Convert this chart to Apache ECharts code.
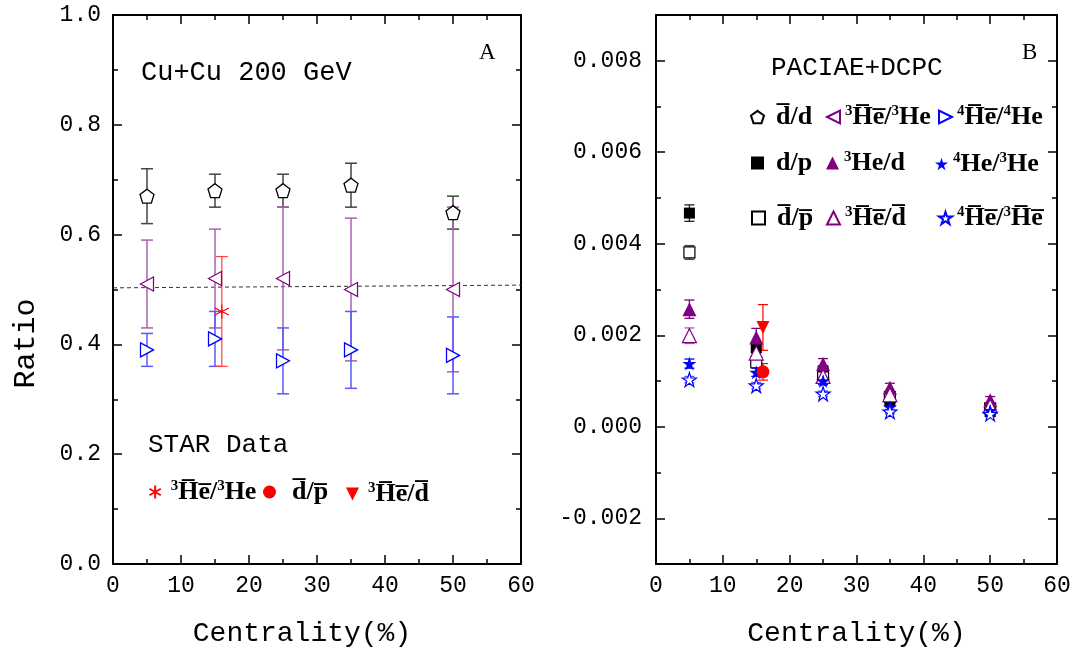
<!DOCTYPE html>
<html>
<head>
<meta charset="utf-8">
<script src="https://cdn.jsdelivr.net/npm/echarts@6/dist/echarts.min.js"></script>
<style>html,body{margin:0;padding:0;background:#fff}#c{width:1083px;height:653px}</style>
</head>
<body>
<div id="c"></div>
<script>
// ---------- data ----------
const centrality = [5, 15, 25, 35, 50];
// Panel A (PACIAE+DCPC)
const dbarD      = [0.67, 0.68, 0.68, 0.69, 0.64];
const dbarDErr   = [0.05, 0.03, 0.03, 0.04, 0.03];
const he3barHe3  = [0.51, 0.52, 0.52, 0.50, 0.50];
const he3barHe3Err = [0.08, 0.09, 0.13, 0.13, 0.15];
const he4barHe4  = [0.39, 0.41, 0.37, 0.39, 0.38];
const he4barHe4Err = [0.03, 0.05, 0.06, 0.07, 0.07];
const fitLine = [[0, 0.503], [60, 0.508]];
// STAR data
const starCent = [16];
const starHe3barHe3 = [0.46];
const starHe3barHe3Err = [0.10];
const starDbarPbar = [0.0012];
const starDbarPbarErr = [0.00018];
const starHe3barDbar = [0.00217];
const starHe3barDbarErr = [0.0005];
// Panel B (PACIAE+DCPC)
const dP        = [0.00467, 0.00173, 0.00122, 0.00055, 0.00033];
const dPErr     = [0.00018, 0.00012, 0.00010, 0.00008, 0.00006];
const dbarPbar  = [0.00381, 0.00141, 0.00108, 0.00065, 0.00040];
const dbarPbarErr = [0.00015, 0.00010, 0.00008, 0.00007, 0.00006];
const he3D      = [0.00257, 0.00195, 0.00137, 0.00085, 0.00058];
const he3DErr   = [0.00020, 0.00020, 0.00012, 0.00010, 0.00008];
const he3barDbar = [0.00199, 0.00161, 0.00110, 0.00070, 0.00045];
const he3barDbarErr = [0.00017, 0.00015, 0.00010, 0.00008, 0.00007];
const he4He3    = [0.00138, 0.00119, 0.00100, 0.00043, 0.00035];
const he4He3Err = [0.00010, 0.00009, 0.00008, 0.00006, 0.00005];
const he4barHe3bar = [0.00103, 0.00090, 0.00072, 0.00033, 0.00028];
const he4barHe3barErr = [0.00007, 0.00007, 0.00006, 0.00005, 0.00004];
// tick values
const xMajorTicks = [0, 10, 20, 30, 40, 50, 60];
const yAMajorTicks = [0, 0.2, 0.4, 0.6, 0.8, 1.0];
const yBMajorTicks = [-0.002, 0, 0.002, 0.004, 0.006, 0.008];

// ---------- style ----------
const MONO = 'Liberation Mono';
const SERIF = 'Liberation Serif';
const OL = '\u0305';
const ov = s => s.split('').map(c => c + OL).join('');
const PURPLE = '#800080', BLUE = '#0000ff', RED = '#ff0000';
const symPent = 'path://M0,-1L0.951,-0.309L0.588,0.809L-0.588,0.809L-0.951,-0.309Z';
const symLeft = 'path://M-1,0L1,-1L1,1Z';
const symRight = 'path://M1,0L-1,-1L-1,1Z';
const symDown = 'path://M-1,-1L1,-1L0,1Z';
const symStar = 'path://M0,-1L0.2245,-0.309L0.951,-0.309L0.363,0.118L0.588,0.809L0,0.382L-0.588,0.809L-0.363,0.118L-0.951,-0.309L-0.2245,-0.309Z';
const symAst = 'path://M0,-1L0,1M-0.87,-0.5L0.87,0.5M-0.87,0.5L0.87,-0.5';

function errSeries(x, y, e, color, xi, yi, cap, w) {
  return {
    type: 'custom', xAxisIndex: xi, yAxisIndex: yi, silent: true, z: 2,
    dimensions: ['x', 'y', 'e'], encode: { x: 0, y: 1 },
    data: x.map((c, i) => [c, y[i], e[i]]),
    renderItem: function (params, api) {
      const cx = api.value(0), cy = api.value(1), ee = api.value(2);
      const p1 = api.coord([cx, cy + ee]), p2 = api.coord([cx, cy - ee]);
      const st = { stroke: color, lineWidth: w };
      return { type: 'group', children: [
        { type: 'line', shape: { x1: p1[0], y1: p1[1], x2: p2[0], y2: p2[1] }, style: st },
        { type: 'line', shape: { x1: p1[0] - cap, y1: p1[1], x2: p1[0] + cap, y2: p1[1] }, style: st },
        { type: 'line', shape: { x1: p2[0] - cap, y1: p2[1], x2: p2[0] + cap, y2: p2[1] }, style: st }
      ]};
    }
  };
}
function sc(name, x, y, xi, yi, symbol, size, fill, border, bw) {
  return {
    type: 'scatter', name: name, xAxisIndex: xi, yAxisIndex: yi, z: 3,
    data: x.map((c, i) => [c, y[i]]), symbol: symbol, symbolSize: size,
    itemStyle: { color: fill, borderColor: border, borderWidth: bw, opacity: 1 },
    emphasis: { disabled: true }
  };
}

const labels = {
  m_dbar_d: '{b|' + ov('d') + '/d}',
  m_he3bar_he3: '{sup|3}{b|' + ov('He') + '/}{sup|3}{b|He}',
  m_he4bar_he4: '{sup|4}{b|' + ov('He') + '/}{sup|4}{b|He}',
  m_dp: '{b|d/p}',
  m_he3d: '{sup|3}{b|He/d}',
  m_he4he3: '{sup|4}{b|He/}{sup|3}{b|He}',
  m_dbarpbar: '{b|' + ov('d') + '/' + ov('p') + '}',
  m_he3bar_dbar: '{sup|3}{b|' + ov('He') + '/' + ov('d') + '}',
  m_he4bar_he3bar: '{sup|4}{b|' + ov('He') + '/}{sup|3}{b|' + ov('He') + '}',
  s_he3bar_he3: '{sup|3}{b|' + ov('He') + '/}{sup|3}{b|He}',
  s_dbar_pbar: '{b|' + ov('d') + '/' + ov('p') + '}',
  s_he3bar_dbar: '{sup|3}{b|' + ov('He') + '/' + ov('d') + '}'
};
// [series, icon left, icon centre y, extra gap]
const legendPlaces = [
  ['m_dbar_d', 750, 117, 7], ['m_he3bar_he3', 826, 117, 0], ['m_he4bar_he4', 938, 117, 0],
  ['m_dp', 751, 163, 7], ['m_he3d', 826, 163, 0], ['m_he4he3', 935, 164, 0],
  ['m_dbarpbar', 751, 218, 7], ['m_he3bar_dbar', 826, 218, 0], ['m_he4bar_he3bar', 938, 218, 0],
  ['s_he3bar_he3', 147, 492, 4], ['s_dbar_pbar', 263, 492, 11], ['s_he3bar_dbar', 346, 494, 4]
];
const baseRich = {
  b: { fontFamily: SERIF, fontWeight: 'bold', fontSize: 26, color: '#000', verticalAlign: 'bottom' },
  sup: { fontFamily: SERIF, fontWeight: 'bold', fontSize: 15, color: '#000', verticalAlign: 'top' }
};
const legends = legendPlaces.map(p => ({
  data: [p[0]], left: p[1], top: p[2] - 13, padding: 0, itemWidth: 13, itemHeight: 13,
  selectedMode: false,
  formatter: n => (p[3] > 0 ? '{sp| }' : '') + labels[n],
  textStyle: { rich: Object.assign({ sp: { fontSize: 6, width: p[3] } }, baseRich) }
}));

const tickLine = { color: '#000', width: 1.5 };
const labelStyle = { fontFamily: MONO, fontSize: 23, color: '#000' };
// minor-step axis with short ticks (and labels at majors) + overlay axis carrying the long major ticks
function axisPair(kind, grid, pos, min, max, step, majors, labelOpt, nameOpt) {
  const main = Object.assign({
    type: 'value', gridIndex: grid, position: pos, offset: 0, min: min, max: max, interval: step,
    axisLine: { show: true, onZero: false, lineStyle: { color: '#000', width: 2 } },
    axisTick: { show: true, inside: true, length: 5, lineStyle: tickLine },
    minorTick: { show: false }, splitLine: { show: false },
    axisLabel: labelOpt || { show: false }
  }, nameOpt || {});
  const major = {
    type: 'value', gridIndex: grid, position: pos, offset: 0, min: min, max: max, interval: step,
    axisLine: { show: false, onZero: false },
    axisTick: { show: true, inside: true, length: 9, customValues: majors, lineStyle: tickLine },
    minorTick: { show: false }, splitLine: { show: false }, axisLabel: { show: false }
  };
  return [main, major];
}
const isMajor = (v, majors) => majors.some(m => Math.abs(m - v) < 1e-9);
const xLabel = { show: true, margin: 10, formatter: v => (isMajor(v, xMajorTicks) ? String(v) : ''), ...labelStyle };
const xName = (pad) => ({
  name: 'Centrality(%)', nameLocation: 'middle', nameGap: 56,
  nameTextStyle: { fontFamily: MONO, fontSize: 28, color: '#000', padding: pad }
});

const xAxes = [].concat(
  axisPair('x', 0, 'bottom', 0, 60, 5, xMajorTicks, xLabel, xName([0, 30, 0, 0])),
  axisPair('x', 0, 'top', 0, 60, 5, xMajorTicks),
  axisPair('x', 1, 'bottom', 0, 60, 5, xMajorTicks, xLabel, xName([0, 0, 0, 0])),
  axisPair('x', 1, 'top', 0, 60, 5, xMajorTicks)
);
const yAxes = [].concat(
  axisPair('y', 0, 'left', 0, 1, 0.1, yAMajorTicks,
    { show: true, margin: 12, formatter: v => (isMajor(v, yAMajorTicks) ? v.toFixed(1) : ''), ...labelStyle },
    { name: 'Ratio', nameLocation: 'middle', nameGap: 72, nameRotate: 90,
      nameTextStyle: { fontFamily: MONO, fontSize: 30, color: '#000', padding: [0, 108, 0, 0] } }),
  axisPair('y', 0, 'right', 0, 1, 0.1, yAMajorTicks),
  axisPair('y', 1, 'left', -0.003, 0.009, 0.001, yBMajorTicks,
    { show: true, margin: 14, formatter: v => (isMajor(v, yBMajorTicks) ? v.toFixed(3) : ''), ...labelStyle }),
  axisPair('y', 1, 'right', -0.003, 0.009, 0.001, yBMajorTicks)
);
// axis indices: x: 0,1 bottom A; 2,3 top A; 4,5 bottom B; 6,7 top B
//               y: 0,1 left A;   2,3 right A; 4,5 left B;  6,7 right B
const XA = 0, YA = 0, XB = 4, YB = 4;

const option = {
  animation: false,
  backgroundColor: '#fff',
  grid: [
    { left: 113, right: 562, top: 15, bottom: 87 },
    { left: 656, right: 26, top: 15, bottom: 87 }
  ],
  title: [
    { text: 'Cu+Cu 200 GeV', left: 136, top: 54, textStyle: { fontFamily: MONO, fontSize: 27, fontWeight: 'normal', color: '#000' } },
    { text: 'A', left: 474, top: 36, textStyle: { fontFamily: SERIF, fontSize: 23, fontWeight: 'normal', color: '#000' } },
    { text: 'B', left: 1017, top: 36, textStyle: { fontFamily: SERIF, fontSize: 23, fontWeight: 'normal', color: '#000' } },
    { text: 'PACIAE+DCPC', left: 766, top: 50, textStyle: { fontFamily: MONO, fontSize: 26, fontWeight: 'normal', color: '#000' } },
    { text: 'STAR Data', left: 143, top: 427, textStyle: { fontFamily: MONO, fontSize: 26, fontWeight: 'normal', color: '#000' } }
  ],
  legend: legends,
  xAxis: xAxes,
  yAxis: yAxes,
  series: [
    { type: 'line', xAxisIndex: XA, yAxisIndex: YA, data: fitLine, symbol: 'none', silent: true, z: 1,
      lineStyle: { color: '#333', width: 1, type: [4, 3] } },
    errSeries(centrality, dbarD, dbarDErr, '#444', XA, YA, 6, 1.5),
    errSeries(centrality, he3barHe3, he3barHe3Err, '#a860b0', XA, YA, 6, 1.5),
    errSeries(centrality, he4barHe4, he4barHe4Err, '#5a5aff', XA, YA, 6, 1.5),
    errSeries(starCent, starHe3barHe3, starHe3barHe3Err, '#ff4040', XA, YA, 6, 1.2),
    sc('m_dbar_d', centrality, dbarD, XA, YA, symPent, 14, '#fff', '#000', 1.3),
    sc('m_he3bar_he3', centrality, he3barHe3, XA, YA, symLeft, [13, 14], '#fff', PURPLE, 1.3),
    sc('m_he4bar_he4', centrality, he4barHe4, XA, YA, symRight, [13, 14], '#fff', BLUE, 1.3),
    sc('s_he3bar_he3', starCent, starHe3barHe3, XA, YA, symAst, 14, 'none', RED, 1.2),
    // panel B
    errSeries(centrality, dP, dPErr, '#222', XB, YB, 5, 1.3),
    errSeries(centrality, dbarPbar, dbarPbarErr, '#444', XB, YB, 5, 1.3),
    errSeries(centrality, he3D, he3DErr, PURPLE, XB, YB, 5, 1.3),
    errSeries(centrality, he3barDbar, he3barDbarErr, '#a860b0', XB, YB, 5, 1.3),
    errSeries(centrality, he4He3, he4He3Err, BLUE, XB, YB, 5, 1.3),
    errSeries(centrality, he4barHe3bar, he4barHe3barErr, '#5a5aff', XB, YB, 5, 1.3),
    errSeries(starCent, starHe3barDbar, starHe3barDbarErr, RED, XB, YB, 5, 1.2),
    errSeries(starCent, starDbarPbar, starDbarPbarErr, RED, XB, YB, 5, 1.2),
    sc('m_dp', centrality, dP, XB, YB, 'rect', 11, '#000', '#000', 0),
    sc('m_dbarpbar', centrality, dbarPbar, XB, YB, 'rect', 11, '#fff', '#000', 1.2),
    sc('m_he3d', centrality, he3D, XB, YB, 'triangle', 14, PURPLE, PURPLE, 0),
    sc('m_he3bar_dbar', centrality, he3barDbar, XB, YB, 'triangle', 14, '#fff', PURPLE, 1.2),
    sc('m_he4he3', centrality, he4He3, XB, YB, symStar, 14, BLUE, BLUE, 0),
    sc('m_he4bar_he3bar', centrality, he4barHe3bar, XB, YB, symStar, 14, '#fff', BLUE, 1.2),
    sc('s_he3bar_dbar', starCent, starHe3barDbar, XB, YB, symDown, 13, RED, RED, 0),
    sc('s_dbar_pbar', starCent, starDbarPbar, XB, YB, 'circle', 13, RED, RED, 0)
  ]
};
const chart = echarts.init(document.getElementById('c'), null, { renderer: 'canvas' });
chart.setOption(option);
</script>
</body>
</html>
